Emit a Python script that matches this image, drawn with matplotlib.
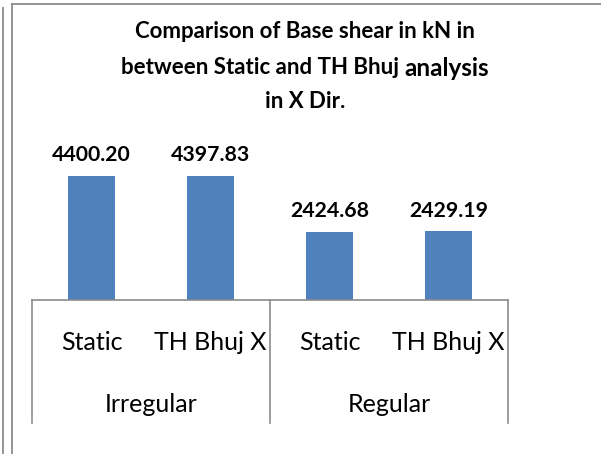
import numpy as np
import matplotlib
matplotlib.use("Agg")
import matplotlib.pyplot as plt
from matplotlib.lines import Line2D

# Data
groups = ["Irregular", "Regular"]
cases = ["Static", "TH Bhuj X", "Static", "TH Bhuj X"]
base_shear = [4400.20, 4397.83, 2424.68, 2429.19]
value_labels = ["4400.20", "4397.83", "2424.68", "2429.19"]
title_line1 = "Comparison of Base shear in kN in"
title_line2a = "between Static and TH Bhuj "
title_line2b = "analysis"
title_line3 = "in X Dir."

plt.rcParams['font.family'] = ['Lato', 'DejaVu Sans']

W, H = 601, 454
fig = plt.figure(figsize=(W / 100, H / 100), dpi=100)

# plot area in pixels (from top-left)
x0, x1 = 32, 508
y_axis = 300
ax_h = 141
ax = fig.add_axes([x0 / W, (H - y_axis) / H, (x1 - x0) / W, ax_h / H])
ax.set_xlim(-0.5, 3.5)
ax.set_ylim(0, 5000)

bar_color = "#4F81BD"
x = np.arange(len(cases))
ax.bar(x, base_shear, width=0.40, color=bar_color)

for xi, v, lab in zip(x, base_shear, value_labels):
    ax.annotate(lab, (xi, v), xytext=(0, 15), textcoords="offset points",
                ha="center", va="center", fontsize=15.3, fontweight="bold")

for s in ax.spines.values():
    s.set_visible(False)
ax.set_xticks([])
ax.set_yticks([])
ax.patch.set_alpha(0)

axis_col = "#8C8C8C"
tr = ax.get_xaxis_transform()
# category axis line + separators
ax.plot([-0.5, 3.5], [0, 0], color=axis_col, lw=1.2, transform=tr, clip_on=False)
sep_bottom = -(423 - y_axis) / ax_h
for xs in [-0.5, 1.5, 3.5]:
    ax.plot([xs, xs], [0, sep_bottom], color=axis_col, lw=1.2, transform=tr, clip_on=False)

# tick labels, two levels
y_case = -(343 - y_axis) / ax_h
y_group = -(405 - y_axis) / ax_h
for xi, c in zip(x, cases):
    ax.text(xi, y_case, c, transform=tr, ha="center", va="center", fontsize=18)
for gi, g in enumerate(groups):
    ax.text(gi * 2 + 0.5, y_group, g, transform=tr, ha="center", va="center", fontsize=18)

# title
cx = 305
fig.text(cx / W, 1 - 31 / H, title_line1, ha="center", va="center",
         fontsize=16, fontweight="bold")
fig.text(cx / W, 1 - 101 / H, title_line3, ha="center", va="center",
         fontsize=16, fontweight="bold")
ta = fig.text(0, 1 - 66 / H, title_line2a, ha="left", va="center_baseline",
              fontsize=16, fontweight="bold")
tb = fig.text(0, 1 - 66 / H, title_line2b, ha="left", va="center_baseline",
              fontsize=17.5, fontweight="bold")
r = fig.canvas.get_renderer()
wa = ta.get_window_extent(r).width
wb = tb.get_window_extent(r).width
left = cx - (wa + wb) / 2
ta.set_x(left / W)
tb.set_x((left + wa) / W)

# chart frame lines
frame_col = "#8C8C8C"
fig.add_artist(Line2D([11.5 / W, 11.5 / W], [0, 1 - 4 / H], color=frame_col, lw=1.3,
                      transform=fig.transFigure))
fig.add_artist(Line2D([11.5 / W, 1], [1 - 4 / H, 1 - 4 / H], color=frame_col, lw=1.3,
                      transform=fig.transFigure))
fig.add_artist(Line2D([2.5 / W, 2.5 / W], [0, 1 - 8 / H], color=frame_col, lw=1.3,
                      transform=fig.transFigure))

fig.savefig("out.png", dpi=100)
